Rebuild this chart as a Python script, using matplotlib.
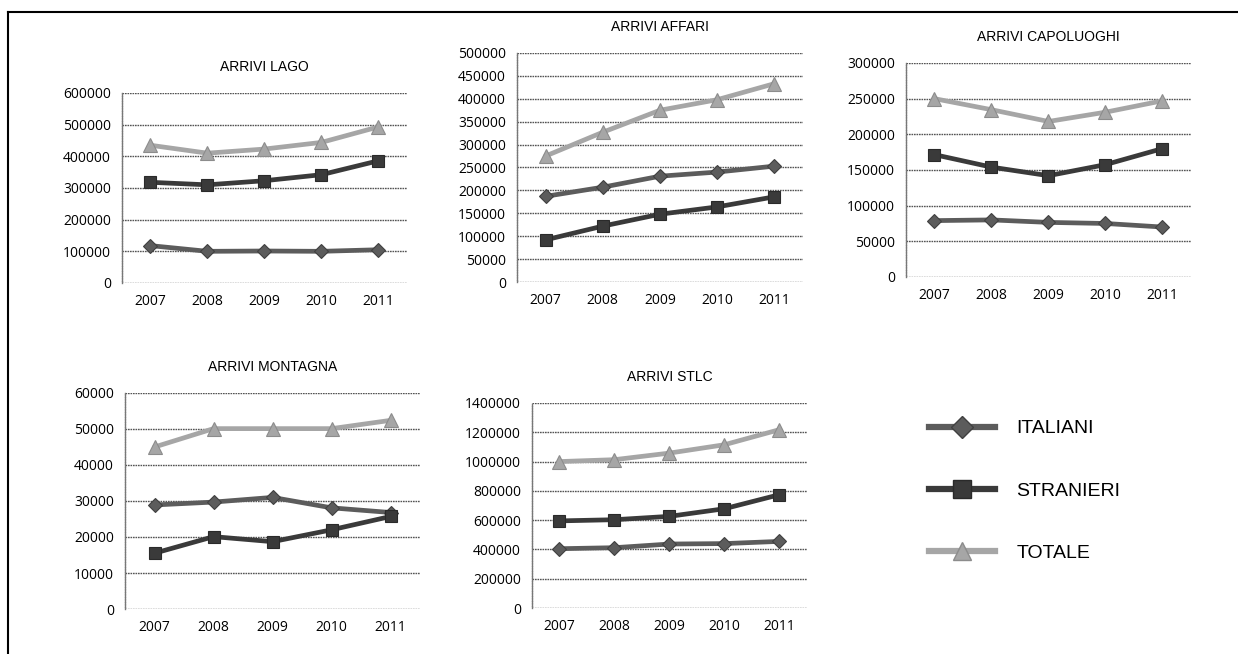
import matplotlib.pyplot as plt
from matplotlib.lines import Line2D
import numpy as np

years = ['2007', '2008', '2009', '2010', '2011']

# arrivi per segmento: italiani, stranieri, totale
lago_ita = [118000, 100000, 101000, 100000, 105000]
lago_str = [318000, 310000, 323000, 342000, 386000]
lago_tot = [435000, 410000, 423000, 444000, 493000]

affari_ita = [187000, 207000, 231000, 240000, 253000]
affari_str = [92000, 122000, 148000, 164000, 186000]
affari_tot = [275000, 327000, 375000, 398000, 433000]

capo_ita = [79000, 80000, 76500, 75000, 70000]
capo_str = [171500, 154000, 142000, 157500, 180000]
capo_tot = [250000, 234500, 218000, 231000, 247000]

mont_ita = [28900, 29700, 31000, 28100, 26800]
mont_str = [15500, 20100, 18700, 22000, 25700]
mont_tot = [45000, 50100, 50100, 50100, 52400]

stlc_ita = [405000, 412000, 437000, 440000, 455000]
stlc_str = [595000, 603000, 626000, 678000, 774000]
stlc_tot = [1000000, 1013000, 1058000, 1115000, 1218000]

series_names = ['ITALIANI', 'STRANIERI', 'TOTALE']
colors = ['#5c5c5c', '#3a3a3a', '#a6a6a6']
edges = ['#404040', '#2a2a2a', '#8c8c8c']
markers = ['D', 's', '^']
msizes = [7.5, 9, 9.5]

panels = [
    ('ARRIVI LAGO', [lago_ita, lago_str, lago_tot], 600000, 100000,
     [0.0985, 0.5673, 0.2302, 0.2905]),
    ('ARRIVI AFFARI', [affari_ita, affari_str, affari_tot], 500000, 50000,
     [0.4176, 0.5688, 0.2310, 0.3502]),
    ('ARRIVI CAPOLUOGHI', [capo_ita, capo_str, capo_tot], 300000, 50000,
     [0.7318, 0.5765, 0.2302, 0.3272]),
    ('ARRIVI MONTAGNA', [mont_ita, mont_str, mont_tot], 60000, 10000,
     [0.1010, 0.0688, 0.2383, 0.3303]),
    ('ARRIVI STLC', [stlc_ita, stlc_str, stlc_tot], 1400000, 200000,
     [0.4297, 0.0703, 0.2221, 0.3135]),
]

tick_font = 'Open Sans'
title_font = 'Liberation Sans'
grid_style = (0, (1.2, 0.6))

fig = plt.figure(figsize=(12.38, 6.54), dpi=100)
x = np.arange(len(years))

for title, data, ymax, step, pos in panels:
    ax = fig.add_axes(pos)
    for vals, c, e, m, ms in zip(data, colors, edges, markers, msizes):
        ax.plot(x, vals, color=c, lw=3.4, marker=m, markersize=ms,
                markerfacecolor=c, markeredgecolor=e, markeredgewidth=0.8,
                solid_capstyle='round', zorder=3)
    ax.set_xlim(-0.5, len(years) - 0.5)
    ax.set_ylim(0, ymax)
    ticks = np.arange(0, ymax + step / 2, step)
    ax.set_yticks(ticks)
    ax.set_yticklabels([f'{int(t)}' for t in ticks], fontfamily=tick_font,
                       fontsize=10)
    ax.set_xticks(x)
    ax.set_xticklabels(years, fontfamily=tick_font, fontsize=10)
    ax.tick_params(length=0)
    ax.tick_params(axis='x', pad=8)
    ax.tick_params(axis='y', pad=8)
    for t in ticks:
        ax.axhline(t, color='#555555', lw=1.0, ls=grid_style, zorder=1)
    for side in ['top', 'right', 'bottom']:
        ax.spines[side].set_visible(False)
    ax.spines['left'].set_color('#777777')
    ax.spines['left'].set_linewidth(1.0)
    ax.spines['left'].set_linestyle(grid_style)
    ax.set_title(title, fontfamily=title_font, fontsize=10, pad=16)

# legend drawn as a free-standing block
handles = [Line2D([0], [0], color=c, lw=4.5, marker=m, markersize=ms + 4,
                  markerfacecolor=c, markeredgecolor=e)
           for c, e, m, ms in zip(colors, edges, markers, msizes)]
fig.legend(handles, series_names, loc='upper left',
           bbox_to_anchor=(0.736, 0.385), frameon=False,
           prop={'family': title_font, 'size': 14},
           handlelength=3.4, labelspacing=2.3, handletextpad=1.1)

# frame of the scanned page
fig.add_artist(Line2D([0.0065, 1.0], [0.982, 0.982], color='black', lw=1.5))
fig.add_artist(Line2D([0.0065, 0.0065], [0.0, 0.982], color='black', lw=1.5))

fig.savefig('out.png', dpi=100)
